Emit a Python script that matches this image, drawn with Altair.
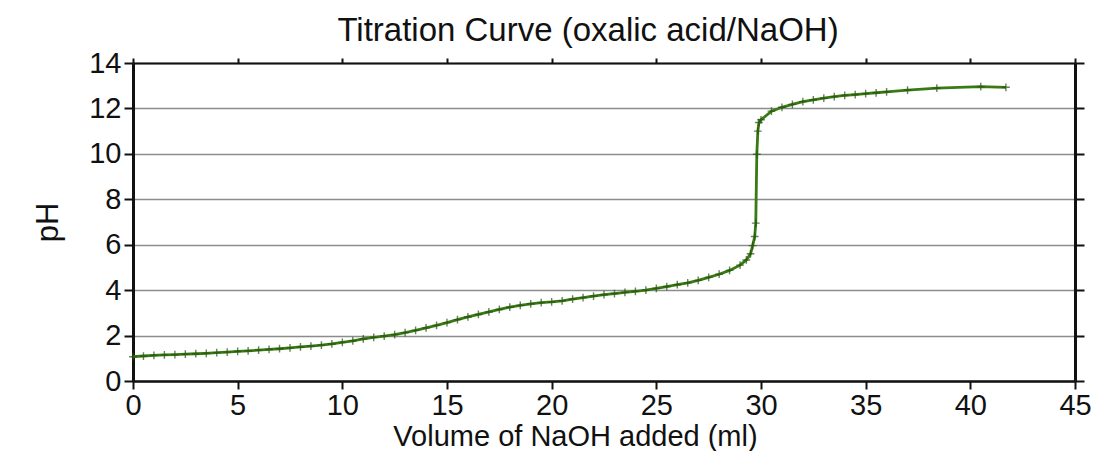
import altair as alt
import pandas as pd

# Volume of NaOH added (ml)
volume = [0.0, 0.5, 1.0, 1.5, 2.0, 2.5, 3.0, 3.5, 4.0, 4.5, 5.0, 5.5, 6.0, 6.5, 7.0, 7.5,
          8.0, 8.5, 9.0, 9.5, 10.0, 10.5, 11.0, 11.5, 12.0, 12.5, 13.0, 13.5, 14.0, 14.5,
          15.0, 15.5, 16.0, 16.5, 17.0, 17.5, 18.0, 18.5, 19.0, 19.5, 20.0, 20.5, 21.0,
          21.5, 22.0, 22.5, 23.0, 23.5, 24.0, 24.5, 25.0, 25.5, 26.0, 26.5, 27.0, 27.5,
          28.0, 28.5, 29.0, 29.3, 29.5, 29.6, 29.7, 29.75, 29.8, 29.85, 29.9, 30.0, 30.5,
          31.0, 31.5, 32.0, 32.5, 33.0, 33.5, 34.0, 34.5, 35.0, 35.5, 36.0, 37.0, 38.4,
          40.5, 41.7]
# Measured pH
ph = [1.07, 1.10, 1.13, 1.15, 1.16, 1.18, 1.20, 1.22, 1.25, 1.27, 1.30, 1.33, 1.36, 1.39,
      1.42, 1.46, 1.50, 1.54, 1.58, 1.63, 1.70, 1.77, 1.85, 1.92, 1.98, 2.04, 2.13, 2.23,
      2.34, 2.45, 2.57, 2.70, 2.82, 2.93, 3.04, 3.15, 3.25, 3.33, 3.40, 3.45, 3.48, 3.53,
      3.60, 3.67, 3.74, 3.80, 3.85, 3.90, 3.95, 4.00, 4.08, 4.16, 4.24, 4.32, 4.43, 4.56,
      4.70, 4.87, 5.10, 5.33, 5.60, 5.96, 6.36, 6.95, 9.98, 11.00, 11.38, 11.50, 11.88,
      12.05, 12.18, 12.30, 12.38, 12.45, 12.52, 12.57, 12.61, 12.65, 12.69, 12.73, 12.81,
      12.89, 12.96, 12.93]

x_ticks = [0, 5, 10, 15, 20, 25, 30, 35, 40, 45]
y_ticks = [0, 2, 4, 6, 8, 10, 12, 14]

df = pd.DataFrame({"ml": volume, "pH": ph})

FONT = "Liberation Sans"
xscale = alt.Scale(domain=[0, 45], nice=False, zero=False)
yscale = alt.Scale(domain=[0, 14], nice=False, zero=False)

x_main = alt.X("ml:Q", scale=xscale, axis=alt.Axis(
    values=x_ticks, title="Volume of NaOH added (ml)", grid=False,
    domainColor="#111", domainWidth=2.5, tickColor="#111", tickWidth=2, tickSize=8,
    labelFont=FONT, labelFontSize=29, labelColor="#111", labelPadding=2,
    titleFont=FONT, titleFontSize=29, titleFontWeight="normal", titleColor="#111",
    titlePadding=2, titleX=442, titleAlign="center", labelFlush=False))
y_main = alt.Y("pH:Q", scale=yscale, axis=alt.Axis(
    values=y_ticks, title="pH", grid=True, gridColor="#8c8c8c", gridWidth=1.5,
    domainColor="#111", domainWidth=3, tickColor="#111", tickWidth=2, tickSize=9,
    labelFont=FONT, labelFontSize=29, labelColor="#111", labelPadding=3,
    titleFont=FONT, titleFontSize=31, titleFontWeight="normal", titleColor="#111",
    titlePadding=24, labelFlush=False))

line = alt.Chart(df).mark_line(color="#3a7a14", strokeWidth=2.8).encode(x=x_main, y=y_main)
pts = alt.Chart(df).mark_point(
    shape="M-1,0L1,0M0,-1L0,1", size=60, filled=False, color="#24520c", strokeWidth=1.4
).encode(x=alt.X("ml:Q", scale=xscale), y=alt.Y("pH:Q", scale=yscale))

main = alt.layer(line, pts)

frame = alt.Chart(df).mark_line(opacity=0).encode(
    x=alt.X("ml:Q", scale=xscale, axis=alt.Axis(
        orient="top", values=x_ticks, labels=False, title=None, grid=False,
        domainColor="#111", domainWidth=2, tickColor="#111", tickWidth=2, tickSize=5)),
    y=alt.Y("pH:Q", scale=yscale, axis=alt.Axis(
        orient="right", values=y_ticks, labels=False, title=None, grid=False,
        domainColor="#111", domainWidth=3, tickColor="#111", tickWidth=2, tickSize=9)),
)

chart = alt.layer(main, frame).resolve_scale(x="independent", y="independent").properties(
    width=942, height=318,
    title=alt.TitleParams("Titration Curve (oxalic acid/NaOH)", font=FONT, fontSize=33,
                          fontWeight="normal", color="#111", offset=1, dx=-16),
    autosize=alt.AutoSizeParams(type="none"),
    padding={"left": 125, "top": 55, "right": 30, "bottom": 70},
).configure_view(stroke=None).configure(background="white")

chart.save("out.html", embed_options={"renderer": "svg", "actions": False})
